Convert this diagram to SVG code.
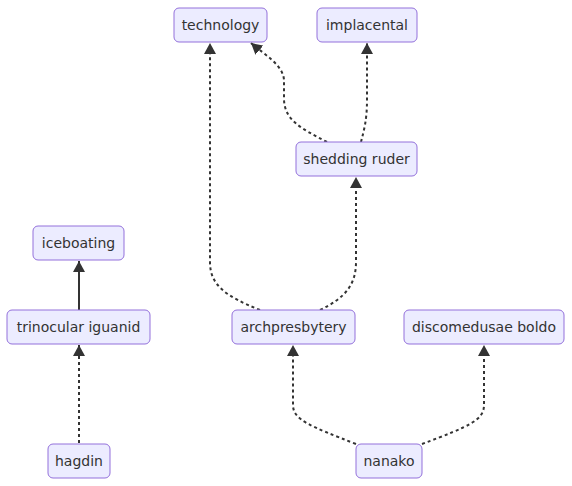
<svg xmlns="http://www.w3.org/2000/svg" width="572" height="486" viewBox="0 0 572 486">
<style>
.node rect{fill:#ECECFF;stroke:#9370DB;stroke-width:1}
.node text{font-family:"DejaVu Sans",Verdana,sans-serif;font-size:14px;fill:#333;text-anchor:middle;dominant-baseline:central}
.edge{fill:none;stroke:#333;stroke-width:2}
.dot{stroke-dasharray:3 3}
</style>
<defs>
<marker id="arr" markerUnits="userSpaceOnUse" viewBox="0 0 10 10" refX="10" refY="5" markerWidth="11" markerHeight="12" orient="auto" preserveAspectRatio="none">
<path d="M0,0 L10,5 L0,10 z" fill="#333"/>
</marker>
</defs>
<rect width="572" height="486" fill="#fff"/>
<g id="edges">
<path class="edge dot" d="M260,310 C225,296 210,285 210,262 L210,43" marker-end="url(#arr)"/>
<path class="edge dot" d="M320,310 C345,298 356,285 356,262 L356,177" marker-end="url(#arr)"/>
<path class="edge dot" d="M327,142 C300,128 285,120 284,100 L284,80 C283,65 265,55 251,43" marker-end="url(#arr)"/>
<path class="edge dot" d="M361,142 C364,130 367,120 367,100 L367,43" marker-end="url(#arr)"/>
<path class="edge" d="M79,310 L79,261" marker-end="url(#arr)"/>
<path class="edge dot" d="M79,443 L79,345" marker-end="url(#arr)"/>
<path class="edge dot" d="M356,444 C310,426 293,420 293,405 L293,345" marker-end="url(#arr)"/>
<path class="edge dot" d="M422,444 C470,426 484,420 484,405 L484,345" marker-end="url(#arr)"/>
</g>
<g id="technology" class="node"><rect x="174" y="8" width="93" height="34" rx="5"/><text x="220.5" y="25">technology</text></g>
<g id="implacental" class="node"><rect x="317" y="8" width="100" height="34" rx="5"/><text x="367" y="25">implacental</text></g>
<g id="shedding_ruder" class="node"><rect x="296" y="142" width="121" height="34" rx="5"/><text x="356.5" y="159">shedding ruder</text></g>
<g id="iceboating" class="node"><rect x="33" y="226" width="91" height="34" rx="5"/><text x="78.5" y="243">iceboating</text></g>
<g id="trinocular_iguanid" class="node"><rect x="7" y="310" width="143" height="34" rx="5"/><text x="78.5" y="327">trinocular iguanid</text></g>
<g id="archpresbytery" class="node"><rect x="232" y="310" width="123" height="34" rx="5"/><text x="293.5" y="327">archpresbytery</text></g>
<g id="discomedusae_boldo" class="node"><rect x="404" y="310" width="160" height="34" rx="5"/><text x="484" y="327">discomedusae boldo</text></g>
<g id="hagdin" class="node"><rect x="48" y="444" width="62" height="34" rx="5"/><text x="79" y="461">hagdin</text></g>
<g id="nanako" class="node"><rect x="356" y="444" width="66" height="34" rx="5"/><text x="389" y="461">nanako</text></g>
</svg>
